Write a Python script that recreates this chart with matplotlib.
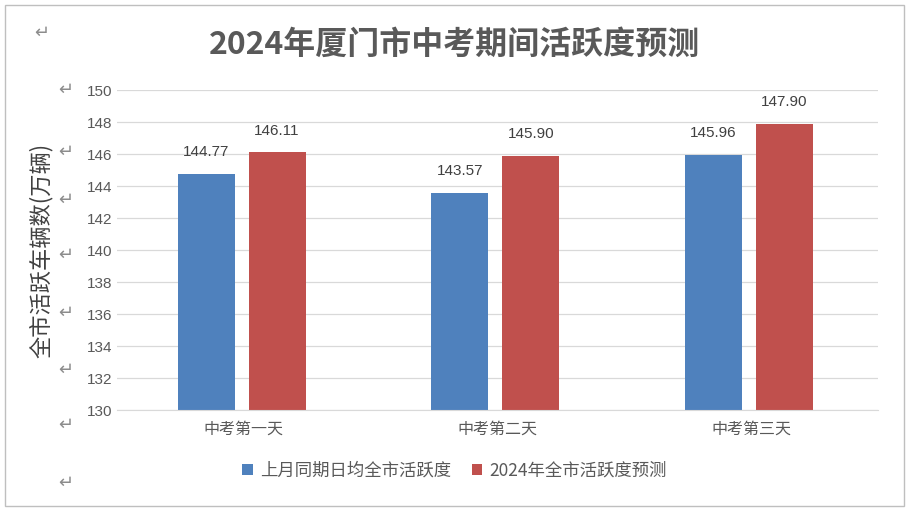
import matplotlib.pyplot as plt
import numpy as np

plt.rcParams["font.family"] = ["Noto Sans CJK SC"]

categories = ["中考第一天", "中考第二天", "中考第三天"]
last_month = [144.77, 143.57, 145.96]
forecast_2024 = [146.11, 145.90, 147.90]
series_names = ["上月同期日均全市活跃度", "2024年全市活跃度预测"]
yticks = list(range(130, 151, 2))

fig = plt.figure(figsize=(9.09, 5.11), dpi=100)
ax = fig.add_axes([117 / 909, 1 - 410 / 511, 761 / 909, 320 / 511])

x = np.arange(len(categories))
w = 0.225
ax.bar(x - 0.148, last_month, w, color="#4F81BD", label=series_names[0])
ax.bar(x + 0.131, forecast_2024, w, color="#C0504D", label=series_names[1])
for xi, v in zip(x, last_month):
    ax.text(xi - 0.148, v + 0.9, f"{v:.2f}", ha="center", va="bottom",
            fontsize=11, color="#404040", family="Liberation Sans")
for xi, v in zip(x, forecast_2024):
    ax.text(xi + 0.131, v + 0.9, f"{v:.2f}", ha="center", va="bottom",
            fontsize=11, color="#404040", family="Liberation Sans")

ax.set_xlim(-0.5, 2.5)
ax.set_ylim(130, 150)
ax.set_yticks(yticks)
ax.set_yticklabels([str(t) for t in yticks], family="Liberation Sans")
ax.grid(axis="y", color="#D9D9D9", lw=0.9)
ax.set_axisbelow(True)
for s in ["top", "right", "left"]:
    ax.spines[s].set_visible(False)
ax.spines["bottom"].set_color("#D9D9D9")
ax.tick_params(length=0, labelsize=11, labelcolor="#595959")
ax.set_xticks(x)
ax.set_xticklabels(categories, fontsize=11.5)
ax.tick_params(axis="x", pad=8)
ax.set_ylabel("全市活跃车辆数(万辆)", fontsize=16, color="#404040", labelpad=24)

fig.text(0.5, 1 - 45 / 511, "2024年厦门市中考期间活跃度预测", ha="center", va="center",
         fontsize=23, fontweight="bold", color="#595959")
fig.legend(loc="center", bbox_to_anchor=(0.5, 1 - 471 / 511), ncol=2, frameon=False,
           fontsize=12.5, handlelength=0.6, handleheight=0.6, columnspacing=1.2,
           handletextpad=0.4, labelcolor="#595959")

# paragraph marks left over in the source document
for xp, yp in [(42, 33), (66, 90), (66, 152), (66, 200), (66, 255), (66, 313),
               (66, 370), (66, 425), (66, 483)]:
    fig.text(xp / 909, 1 - yp / 511, "↵", ha="center", va="center",
             fontsize=13, color="#8C8C8C", family="DejaVu Sans")

fig.patches.append(plt.Rectangle((0.005, 0.01), 0.99, 0.98, transform=fig.transFigure,
                                 fill=False, edgecolor="#BFBFBF", lw=1))
fig.savefig("out.png", dpi=100)
